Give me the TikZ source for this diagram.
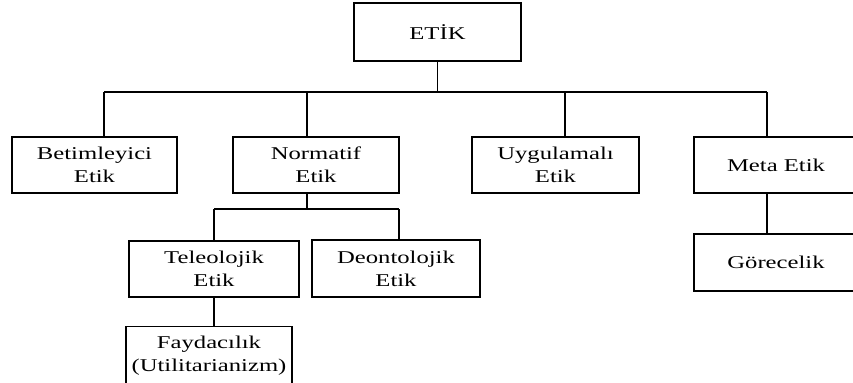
\documentclass[tikz,border=0pt]{standalone}
\usepackage{fontspec}
\setmainfont{Liberation Serif}[FakeStretch=1.37]
\begin{document}
\begin{tikzpicture}[x=0.75pt,y=-0.75pt,
  box/.style={draw, line width=1.2pt, align=center, inner sep=0pt,
    font=\fontsize{13.5}{17.25}\selectfont},
  link/.style={line width=1.2pt}]
\useasboundingbox (0,0) rectangle (853,382);
\clip (0,0) rectangle (853,382);
\node[box, minimum width=125.25pt, minimum height=43.5pt] (etik) at (437.5,32) {ET\.IK};
\node[box, minimum width=123.75pt, minimum height=42pt] (bet) at (94.5,165) {Betimleyici\\Etik};
\node[box, minimum width=124.5pt, minimum height=42pt] (norm) at (316,165) {Normatif\\Etik};
\node[box, minimum width=125.25pt, minimum height=42pt] (uyg) at (555.5,165) {Uygulamalı\\Etik};
\node[box, minimum width=123pt, minimum height=42pt] (meta) at (776,165) {Meta Etik};
\node[box, minimum width=123pt, minimum height=42.75pt] (gor) at (776,262.5) {Görecelik};
\node[box, minimum width=127.5pt, minimum height=42pt] (tel) at (214,269) {Teleolojik\\Etik};
\node[box, minimum width=126pt, minimum height=42.75pt] (deo) at (396,268.5) {Deontolojik\\Etik};
\node[box, minimum width=124.5pt, minimum height=43.5pt] (fay) at (209,355.5) {Faydacılık\\(Utilitarianizm)};
% top bus
\coordinate (b1) at (104,92);
\coordinate (b2) at (307,92);
\coordinate (b3) at (565,92);
\coordinate (b4) at (767,92);
\draw[link] (etik.south) -- (etik.south |- b1);
\draw[link] (b1) -- (b4);
\draw[link] (b1) -- (b1 |- bet.north);
\draw[link] (b2) -- (b2 |- norm.north);
\draw[link] (b3) -- (b3 |- uyg.north);
\draw[link] (b4) -- (b4 |- meta.north);
% normatif bus
\coordinate (n0) at (307,209);
\coordinate (n1) at (214,209);
\coordinate (n2) at (399,209);
\draw[link] (n0 |- norm.south) -- (n0);
\draw[link] (n1) -- (n2);
\draw[link] (n1) -- (n1 |- tel.north);
\draw[link] (n2) -- (n2 |- deo.north);
% teleolojik -> faydacilik
\draw[link] (tel.south) -- (fay.north -| tel.south);
% meta -> gorecelik
\coordinate (m0) at (767,193);
\draw[link] (m0 |- meta.south) -- (m0 |- gor.north);
\end{tikzpicture}
\end{document}
